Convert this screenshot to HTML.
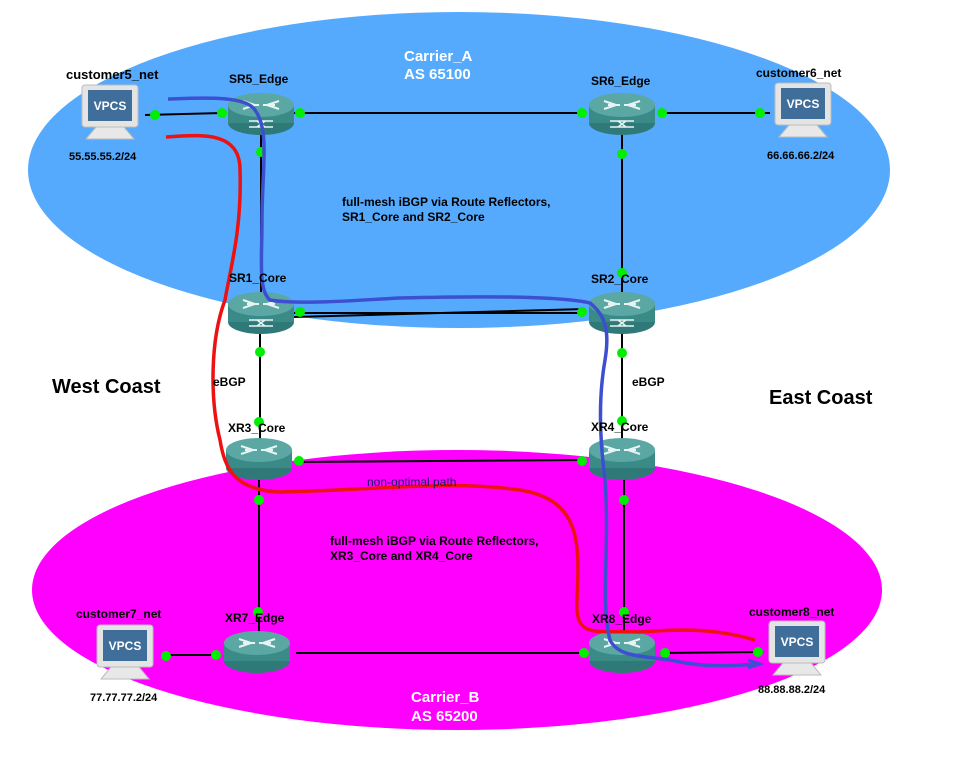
<!DOCTYPE html>
<html><head><style>
body{margin:0;background:#fff;}
svg{display:block;font-family:"Liberation Sans",sans-serif;}
.l{font-weight:bold;font-size:12px;fill:#000;}
</style></head><body>
<svg width="953" height="769" viewBox="0 0 953 769">
<defs>
<g id="rt">
 <ellipse cx="0" cy="10" rx="33" ry="12" fill="#2f7a78"/>
 <rect x="-33" y="-8" width="66" height="18" fill="#3a8a88"/>
 <ellipse cx="0" cy="-8" rx="33" ry="12" fill="#5aa7a4"/>
 <path d="M-18,-12 L-6,-8 M-18,-4 L-6,-8 M18,-12 L6,-8 M18,-4 L6,-8 M-14,-8 L-2,-8 M14,-8 L2,-8" stroke="#e8f4f4" stroke-width="2"/>
</g>
<g id="rtx">
 <use href="#rt"/>
 <path d="M-12,8 L12,8 M-12,14 L12,14 M-4,8 L4,14 M-4,14 L4,8" stroke="#e8f4f4" stroke-width="1.5"/>
</g>
<g id="pc">
 <rect x="-28" y="-27" width="56" height="42" rx="3" fill="#e4e4e4" stroke="#bbb"/>
 <rect x="-22" y="-22" width="44" height="31" fill="#3f6e9a"/>
 <text x="0" y="-2" text-anchor="middle" font-size="12" font-weight="bold" fill="#fff">VPCS</text>
 <path d="M-14,15 L14,15 L24,27 L-24,27 Z" fill="#e8e8e8" stroke="#bbb"/>
</g>
</defs>
<ellipse cx="459" cy="170" rx="431" ry="158" fill="#55aafe"/>
<ellipse cx="457" cy="590" rx="425" ry="140" fill="#ff00ff"/>
<g stroke="#000" stroke-width="2" fill="none">
<path d="M145,115 L222,113 M294,113 L583,113 M660,113 L770,113 M261,113 L261,312 M622,113 L622,312 M294,313 L585,313 M294,317 L585,309 M260,312 L260,458 M622,312 L622,458 M296,462 L585,460 M259,460 L259,651 M624,460 L624,651 M296,653 L585,653 M168,655 L220,655 M660,653 L760,652"/>
</g>
<use href="#rtx" x="261" y="113"/><use href="#rtx" x="622" y="113"/>
<use href="#rtx" x="261" y="312"/><use href="#rtx" x="622" y="312"/>
<use href="#rt" x="259" y="458"/><use href="#rt" x="622" y="458"/>
<use href="#rt" x="257" y="651"/><use href="#rt" x="622" y="651"/>
<use href="#pc" x="110" y="112"/><use href="#pc" x="803" y="110"/>
<use href="#pc" x="125" y="652"/><use href="#pc" x="797" y="648"/>
<g fill="#00ee00">
<circle cx="155" cy="115" r="5"/><circle cx="222" cy="113" r="5"/><circle cx="300" cy="113" r="5"/><circle cx="582" cy="113" r="5"/><circle cx="662" cy="113" r="5"/><circle cx="760" cy="113" r="5"/>
<circle cx="261" cy="152" r="5"/><circle cx="622" cy="154" r="5"/><circle cx="622" cy="273" r="5"/>
<circle cx="300" cy="312" r="5"/><circle cx="582" cy="312" r="5"/><circle cx="260" cy="352" r="5"/><circle cx="622" cy="353" r="5"/>
<circle cx="259" cy="422" r="5"/><circle cx="622" cy="421" r="5"/><circle cx="299" cy="461" r="5"/><circle cx="582" cy="461" r="5"/>
<circle cx="259" cy="500" r="5"/><circle cx="624" cy="500" r="5"/><circle cx="258" cy="612" r="5"/><circle cx="624" cy="612" r="5"/>
<circle cx="166" cy="656" r="5"/><circle cx="216" cy="655" r="5"/><circle cx="584" cy="653" r="5"/><circle cx="665" cy="653" r="5"/><circle cx="758" cy="652" r="5"/>
</g>
<path d="M166,137 C200,135 240,130 240,170 C242,230 230,270 225,300 C210,340 210,400 220,440 C225,470 235,490 280,492 C380,490 450,480 520,490 C580,500 580,540 577,600 C575,640 595,630 640,632 C690,628 720,630 755,640" stroke="#ee1111" stroke-width="3.5" fill="none"/>
<path d="M168,99 C200,98 245,95 255,110 C270,130 262,170 262,220 C262,260 258,290 270,300 C300,305 360,300 400,298 C480,296 560,296 590,303 C605,315 610,330 605,360 C598,400 600,440 605,480 C610,550 600,600 610,640 C620,660 650,655 680,662 C710,668 740,665 760,664" stroke="#3d4fd1" stroke-width="3.5" fill="none"/>
<path d="M748,660 L760,664 L748,668" stroke="#3d4fd1" stroke-width="3" fill="none"/>
<text class="l" x="66" y="79" style="font-size:13px">customer5_net</text>
<text class="l" x="229" y="83">SR5_Edge</text>
<text class="l" x="591" y="85">SR6_Edge</text>
<text class="l" x="756" y="77">customer6_net</text>
<text class="l" x="69" y="160" style="font-size:11px">55.55.55.2/24</text>
<text class="l" x="767" y="159" style="font-size:11px">66.66.66.2/24</text>
<text class="l" x="404" y="61" style="font-size:15px;fill:#fff">Carrier_A</text>
<text class="l" x="404" y="79" style="font-size:15px;fill:#fff">AS 65100</text>
<text class="l" x="342" y="206">full-mesh iBGP via Route Reflectors,</text>
<text class="l" x="342" y="221">SR1_Core and SR2_Core</text>
<text class="l" x="229" y="282">SR1_Core</text>
<text class="l" x="591" y="283">SR2_Core</text>
<text class="l" x="52" y="393" style="font-size:20px">West Coast</text>
<text class="l" x="769" y="404" style="font-size:20px">East Coast</text>
<text class="l" x="213" y="386">eBGP</text>
<text class="l" x="632" y="386">eBGP</text>
<text class="l" x="228" y="432">XR3_Core</text>
<text class="l" x="591" y="431">XR4_Core</text>
<text x="367" y="486" font-size="12" fill="#1a1a6a">non-optimal path</text>
<text class="l" x="330" y="545">full-mesh iBGP via Route Reflectors,</text>
<text class="l" x="330" y="560">XR3_Core and XR4_Core</text>
<text class="l" x="76" y="618">customer7_net</text>
<text class="l" x="225" y="622">XR7_Edge</text>
<text class="l" x="592" y="623">XR8_Edge</text>
<text class="l" x="749" y="616">customer8_net</text>
<text class="l" x="90" y="701" style="font-size:11px">77.77.77.2/24</text>
<text class="l" x="758" y="693" style="font-size:11px">88.88.88.2/24</text>
<text class="l" x="411" y="702" style="font-size:15px;fill:#fff">Carrier_B</text>
<text class="l" x="411" y="721" style="font-size:15px;fill:#fff">AS 65200</text>
</svg>
</body></html>
